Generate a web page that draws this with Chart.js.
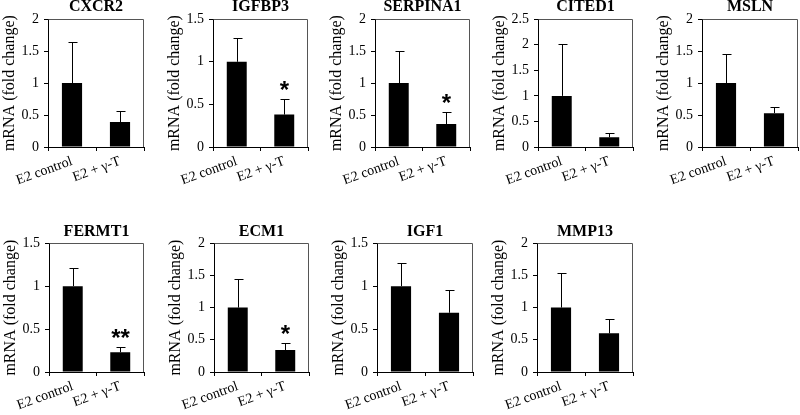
<!DOCTYPE html>
<html>
<head>
<meta charset="utf-8">
<script src="https://cdn.jsdelivr.net/npm/chart.js@4.4.1/dist/chart.umd.min.js"></script>
<style>
  body { margin: 0; width: 800px; height: 415px; background: #fff; position: relative; overflow: hidden; }
  canvas { position: absolute; }
</style>
</head>
<body>
<script>
// chart data

const genes = ["CXCR2", "IGFBP3", "SERPINA1", "CITED1", "MSLN", "FERMT1", "ECM1", "IGF1", "MMP13"];
const groups = ["E2 control", "E2 + γ-T"];

const controlMean = [1, 1, 1, 1, 1, 1, 1, 1, 1];
const treatedMean = [0.39, 0.38, 0.36, 0.19, 0.53, 0.23, 0.34, 0.69, 0.6];
const controlErr = [0.65, 0.28, 0.51, 1.02, 0.46, 0.21, 0.44, 0.27, 0.53];
const treatedErr = [0.17, 0.18, 0.18, 0.085, 0.09, 0.06, 0.11, 0.26, 0.22];

const yMax = [2, 1.5, 2, 2.5, 2, 1.5, 2, 1.5, 2];
const signif = ["", "*", "*", "", "", "**", "*", "", ""];

// where each small panel's plot area sits on the page
const plotLeft = [48, 213, 375, 538, 702, 49, 214, 377, 537];
const plotRight = [144, 308, 470, 633, 798, 144, 309, 473, 633];
const plotTop = [19, 19, 19, 19, 19, 243, 243, 243, 243];
const plotBottom = [147, 147, 147, 147, 147, 372, 372, 372, 372];
const titlePad = [3, 3, 3, 3, 3, 2, 2, 2, 2];

const serif = "Liberation Serif";
Chart.defaults.font.family = serif;
Chart.defaults.color = "#000";

const yAxisWidth = 48;
const xAxisHeight = 50;
const titleSize = 16;

// draws the upper error bars and the significance stars
const errorBars = {
  id: "errorBars",
  afterDatasetsDraw(chart) {
    const ctx = chart.ctx;
    const y = chart.scales.y;
    const ds = chart.data.datasets[0];
    const meta = chart.getDatasetMeta(0);
    ctx.save();
    ctx.strokeStyle = "#000";
    ctx.lineWidth = 1;
    meta.data.forEach((bar, i) => {
      const top = Math.round(y.getPixelForValue(ds.data[i] + ds.errors[i])) + 0.5;
      const x = Math.round(bar.x) + 0.5;
      ctx.beginPath();
      ctx.moveTo(x, bar.y);
      ctx.lineTo(x, top);
      ctx.moveTo(x - 4, top);
      ctx.lineTo(x + 5, top);
      ctx.stroke();

      const s = ds.stars[i];
      if (s) {
        ctx.fillStyle = "#000";
        ctx.font = "bold 24px Liberation Sans";
        ctx.textAlign = "center";
        ctx.textBaseline = "alphabetic";
        const m = ctx.measureText(s);
        const center = top - 14;
        const base = center + (m.actualBoundingBoxAscent - m.actualBoundingBoxDescent) / 2;
        ctx.fillText(s, x, base);
      }
    });
    ctx.restore();
  },
};

// grey frame on top and right of the plot area
const frame = {
  id: "frame",
  beforeDatasetsDraw(chart) {
    const { ctx, chartArea } = chart;
    ctx.save();
    ctx.strokeStyle = "#555";
    ctx.lineWidth = 1;
    ctx.beginPath();
    ctx.moveTo(Math.round(chartArea.left) + 0.5, Math.round(chartArea.top) + 0.5);
    ctx.lineTo(Math.round(chartArea.right) - 0.5, Math.round(chartArea.top) + 0.5);
    ctx.lineTo(Math.round(chartArea.right) - 0.5, Math.round(chartArea.bottom));
    ctx.stroke();
    ctx.restore();
  },
};

function drawPanel(i) {
  const titleH = titleSize * 1.2 + titlePad[i];
  const canvas = document.createElement("canvas");
  const w = yAxisWidth + (plotRight[i] - plotLeft[i]) + 4;
  const h = titleH + (plotBottom[i] - plotTop[i]) + xAxisHeight;
  canvas.width = w;
  canvas.height = h;
  canvas.style.left = plotLeft[i] - yAxisWidth + "px";
  canvas.style.top = plotTop[i] - titleH + "px";
  document.body.appendChild(canvas);

  new Chart(canvas.getContext("2d"), {
    type: "bar",
    data: {
      labels: groups,
      datasets: [
        {
          data: [controlMean[i], treatedMean[i]],
          errors: [controlErr[i], treatedErr[i]],
          stars: ["", signif[i]],
          backgroundColor: "#000",
          borderWidth: 0,
          barPercentage: 0.42,
          categoryPercentage: 1,
        },
      ],
    },
    options: {
      responsive: false,
      animation: false,
      devicePixelRatio: 1,
      layout: { padding: { left: 0, right: 4, top: 0, bottom: 0 } },
      plugins: {
        legend: { display: false },
        tooltip: { enabled: false },
        title: {
          display: true,
          text: genes[i],
          fullSize: false,
          color: "#000",
          font: { family: serif, size: titleSize, weight: "bold", lineHeight: 1.2 },
          padding: { top: 0, bottom: titlePad[i] },
        },
      },
      scales: {
        x: {
          grid: { offset: true, drawOnChartArea: false, tickLength: 4, color: "#000" },
          border: { color: "#000" },
          ticks: {
            color: "#000",
            font: { family: serif, size: 14 },
            minRotation: 20,
            maxRotation: 20,
            autoSkip: false,
            padding: 2,
          },
          afterFit(s) {
            s.height = xAxisHeight;
          },
        },
        y: {
          min: 0,
          max: yMax[i],
          grid: { drawOnChartArea: false, tickLength: 4, color: "#000" },
          border: { color: "#000" },
          ticks: {
            stepSize: 0.5,
            color: "#000",
            font: { family: serif, size: 14 },
            padding: 5,
            callback: (v) => String(v),
          },
          title: {
            display: true,
            text: "mRNA (fold change)",
            color: "#000",
            font: { family: serif, size: 16 },
            padding: 0,
          },
          afterFit(s) {
            s.width = yAxisWidth;
          },
        },
      },
    },
    plugins: [frame, errorBars],
  });
}

genes.forEach((g, i) => drawPanel(i));
</script>
</body>
</html>
